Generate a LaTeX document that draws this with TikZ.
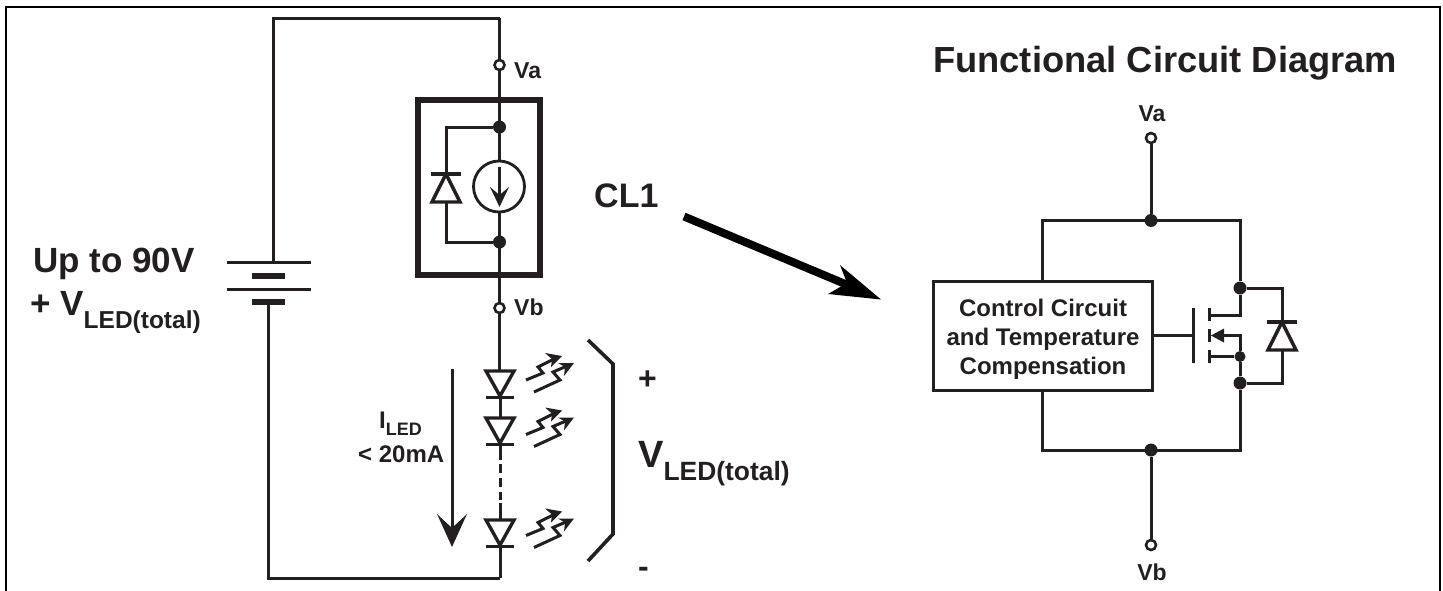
\documentclass[tikz,border=0pt]{standalone}
\usepackage{fontspec}
\setmainfont{Liberation Sans}
\definecolor{ink}{HTML}{231F20}
\newcommand{\fs}[1]{\fontsize{#1}{#1}\selectfont\bfseries}
\newcommand{\subtxt}[2]{\raisebox{#1}{\fontsize{#2}{#2}\selectfont\bfseries LED(total)}}
\tikzset{
  wire/.style={draw=ink,line width=3pt},
  junction/.style={circle,fill=ink,draw=none,inner sep=0pt,minimum size=#1},
  junction/.default=13pt,
  terminal/.style={circle,draw=ink,fill=white,line width=2.6pt,inner sep=0pt,minimum size=10pt},
  label/.style={text=ink,inner sep=0pt,anchor=base west},
  pics/diodeup/.style={code={
    \draw[wire,line width=3.4pt,miter limit=6] (0,0) -- (-14,28) -- (14,28) -- cycle;
    \draw[wire,line width=3.4pt] (-15,0) -- (15,0);
  }},
  pics/leddown/.style={code={
    \draw[wire,line width=3.4pt,miter limit=6] (-14,0) -- (14,0) -- (0,25) -- cycle;
    \draw[wire,line width=3.4pt] (-14,26.5) -- (14,26.5);
  }},
  pics/rays/.style={code={
    \draw[ink,line width=3pt] (0,0) -- (17,-7) -- (12,-13) -- (28,-21);
    \fill[ink] (36,-24) -- (19,-27) -- (26,-21) -- (25,-13) -- cycle;
    \draw[ink,line width=3pt] (8,12) -- (34,0) -- (27,-8) -- (41,-14);
    \fill[ink] (48,-17) -- (32,-17) -- (39,-13) -- (38,-4) -- cycle;
  }},
}
\begin{document}
\begin{tikzpicture}[x=1pt,y=-1pt]
\useasboundingbox (0,0) rectangle (1443,590);
% frame
\draw[black,line width=2pt] (6,600) -- (6,7) -- (1440,7) -- (1440,600);

% coordinates of the left loop
\coordinate (tl) at (273,18);
\coordinate (tr) at (499.5,18);
\coordinate (bl) at (268,578);
\coordinate (br) at (500,578);
\coordinate (batTop) at (273,262);
\coordinate (batBot) at (268,302);

% battery
\draw[wire] (tr) -- (tl) -- (batTop);
\draw[wire] (batBot) -- (bl) -- (br);
\draw[wire] (227,262) -- (311,262);
\draw[ink,line width=6pt] (252,275.5) -- (285,275.5);
\draw[wire] (227,289) -- (311,289);
\draw[ink,line width=6pt] (252,302) -- (285,302);

% main vertical wire
\draw[wire] (tr) -- (499.5,370);
\draw[wire] (500,397) -- (500,418);
\draw[wire] (500,445) -- (500,460);
\draw[wire] (500,546) -- (br);
\draw[wire] (500,503) -- (500,520);
\draw[wire] (500,464) -- (500,473);
\draw[wire] (500,478) -- (500,487);
\draw[wire] (500,492) -- (500,500);

% CL1 package
\node[draw=ink,line width=6pt,minimum width=122pt,minimum height=175pt,inner sep=0pt] (pkg) at (479,187.5) {};
\draw[wire] (499.5,98) -- (499.5,277);
\node[terminal] (va) at (499.5,65) {};
\node[terminal] (vb) at (499.5,308) {};
\node[junction] (j1) at (499.5,127) {};
\node[junction] (j2) at (499.5,242) {};
\node[circle,draw=ink,fill=white,line width=2.8pt,minimum size=51pt,inner sep=0pt] (cs) at (499,186.5) {};
\draw[wire] (499.5,167) -- (499.5,200);
\fill[ink] (499.5,207) -- (490,187) -- (499.5,195) -- (509,187) -- cycle;
\coordinate (dA) at (446,174);
\coordinate (dK) at (446,202);
\draw[wire] (j1) -- (446,127) -- (dA);
\draw[wire] (dK) -- (446,242) -- (j2);
\pic at (dA) {diodeup};

% LEDs
\pic at (500,371) {leddown};
\pic at (500,418) {leddown};
\pic at (500,520) {leddown};
\pic at (526,380) {rays};
\pic at (526,434.5) {rays};
\pic at (526,535.5) {rays};

% current arrow
\coordinate (iA) at (452,369);
\coordinate (iB) at (452,530);
\draw[wire] (iA) -- (iB);
\fill[ink] (452,547) -- (437,514) -- (452,528) -- (467,514) -- cycle;

% bracket
\draw[ink,line width=3.6pt] (588,340) -- (613,364) -- (613,534) -- (588,561);

% big arrow
\coordinate (bigA) at (684,216.5);
\coordinate (bigB) at (850,286);
\draw[black,line width=8pt] (bigA) -- (bigB);
\fill[black] (881,299.5) -- (840,265) -- (847,283) -- (828,294) -- cycle;

% functional circuit
\node[terminal] (va2) at (1151,138) {};
\node[terminal] (vb2) at (1151,545) {};
\node[junction] (j3) at (1151,220.5) {};
\node[junction] (j4) at (1151,450) {};
\node[draw=ink,line width=3pt,minimum width=219pt,minimum height=109pt,inner sep=0pt] (ctl) at (1042.5,335.5) {};
\node[junction] (j5) at (1240,288) {};
\node[junction=11pt] (j6) at (1240,356.5) {};
\node[junction] (j7) at (1240,383) {};
\draw[wire] (va2) -- (j3);
\draw[wire] (j4) -- (vb2);
\draw[wire] (1042,281) -- (1042,220.5) -- (1240,220.5) -- (j5);
\draw[wire] (1042,390) -- (1042,450) -- (1240,450) -- (j7);
\draw[wire] (j5) -- (1240,315) -- (1210,315);
\draw[wire] (j6) -- (1210,356.5);
\draw[wire] (j7) -- (j6) -- (1240,335.5) -- (1222,335.5);
\draw[wire] (1152,335.5) -- (1193,335.5);
\draw[wire] (1193,308) -- (1193,363);
\draw[wire] (1209,308) -- (1209,321);
\draw[wire] (1209,329) -- (1209,342);
\draw[wire] (1209,350) -- (1209,363);
\fill[ink] (1211,335.5) -- (1224,328.5) -- (1224,342.5) -- cycle;
\coordinate (d2A) at (1282,322);
\coordinate (d2K) at (1282,350);
\draw[wire] (j5) -- (1282,288) -- (d2A);
\draw[wire] (d2K) -- (1282,383) -- (j7);
\pic at (d2A) {diodeup};

% labels
\node[label] at (33,272) {\fs{35}Up to 90V};
\node[label] at (30,315) {\fs{35}+ V\subtxt{-13pt}{24.5}};
\node[label] at (514,78) {\fs{23}Va};
\node[label] at (514,315) {\fs{23}Vb};
\node[label] at (594,207) {\fs{34}CL1};
\node[label] at (933,72) {\fs{36.3}Functional Circuit Diagram};
\node[label,anchor=base] at (1152,121) {\fs{23}Va};
\node[label,anchor=base] at (1152,580) {\fs{23}Vb};
\node[label,anchor=base] at (1043,316) {\fs{24}Control Circuit};
\node[label,anchor=base] at (1043,345) {\fs{24}and Temperature};
\node[label,anchor=base] at (1043,374) {\fs{24}Compensation};
\node[label] at (379,428) {\fs{24}I\raisebox{-7pt}{\fs{18}LED}};
\node[label] at (358,462) {\fs{24}< 20mA};
\node[label] at (638,389) {\fs{32}+};
\node[label] at (638,467) {\fs{38}V\subtxt{-13pt}{26.4}};
\node[label] at (638,577) {\fs{32}-};
\end{tikzpicture}
\end{document}
